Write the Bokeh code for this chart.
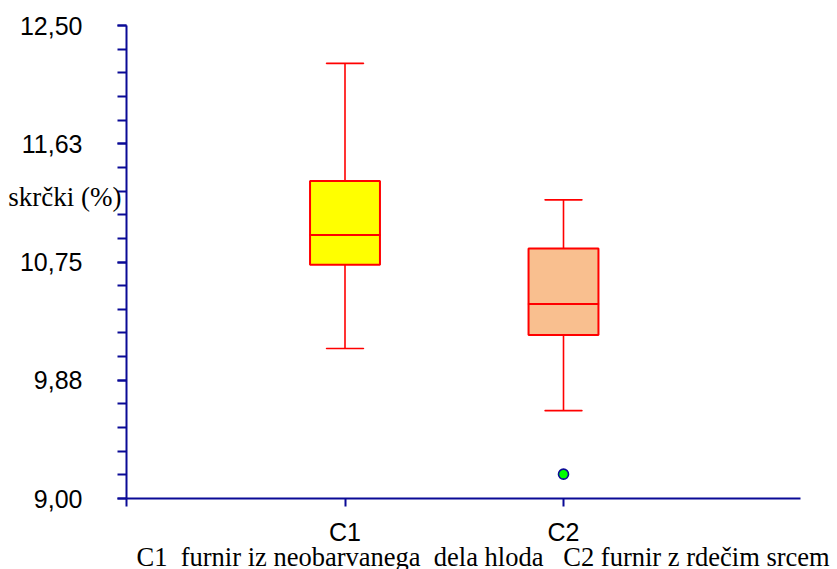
from bokeh.plotting import figure
from bokeh.models import FixedTicker, Label, ColumnDataSource
from bokeh.embed import file_html
from bokeh.resources import INLINE

# ---- data ----
categories = ["C1", "C2"]
positions = [1, 2]
whisker_low = [10.11, 9.65]
q1 = [10.73, 10.21]
median = [10.95, 10.44]
q3 = [11.35, 10.85]
whisker_high = [12.22, 11.21]
box_fills = ["#FFFF00", "#F9BF8F"]
outlier_x = [2]
outlier_y = [9.18]

y_tick_values = [9.0, 9.875, 10.75, 11.625, 12.5]
y_tick_labels = ["9,00", "9,88", "10,75", "11,63", "12,50"]
y_minor_step = 0.175

y_label_text = "skrčki (%)"
caption_text = "C1\u00a0 furnir iz neobarvanega\u00a0 dela hloda\u00a0\u00a0 C2 furnir z rdečim srcem"

# ---- layout (pixels) ----
W, H = 837, 569
AX_LEFT_PX, AX_BOTTOM_PX, AX_TOP_PX = 126, 498, 25
X_PX_PER_UNIT = 218.5
X_AXIS_END = 3.085
Y_MIN, Y_MAX = y_tick_values[0], y_tick_values[-1]
Y_PX_PER_UNIT = (AX_BOTTOM_PX - AX_TOP_PX) / (Y_MAX - Y_MIN)

x_start = -AX_LEFT_PX / X_PX_PER_UNIT
x_end = (W - AX_LEFT_PX) / X_PX_PER_UNIT
y_start = Y_MIN - (H - AX_BOTTOM_PX) / Y_PX_PER_UNIT
y_end = Y_MAX + AX_TOP_PX / Y_PX_PER_UNIT

AXIS = "#0A0A96"
RED = "#FF0000"
BOX_W = 0.32
CAP_W = 0.17

p = figure(frame_width=W, frame_height=H,
           x_range=(x_start, x_end), y_range=(y_start, y_end),
           output_backend="svg", toolbar_location=None, min_border=0)
p.outline_line_color = None
p.xgrid.visible = False
p.ygrid.visible = False
p.background_fill_color = "white"
p.border_fill_color = "white"

src = ColumnDataSource(dict(x=positions, low=whisker_low, q1=q1, med=median,
                            q3=q3, high=whisker_high, fill=box_fills))

# whiskers
p.segment(x0="x", y0="high", x1="x", y1="q3", source=src, line_color=RED, line_width=1.6)
p.segment(x0="x", y0="low", x1="x", y1="q1", source=src, line_color=RED, line_width=1.6)
# caps
p.rect(x="x", y="high", width=CAP_W, height=0.0001, source=src, line_color=RED, line_width=1.6, fill_color=None)
p.rect(x="x", y="low", width=CAP_W, height=0.0001, source=src, line_color=RED, line_width=1.6, fill_color=None)
# boxes
p.vbar(x="x", width=BOX_W, bottom="q1", top="q3", source=src,
       fill_color="fill", line_color=RED, line_width=2)
# medians
p.rect(x="x", y="med", width=BOX_W, height=0.0001, source=src, line_color=RED, line_width=2, fill_color=None)
# outliers
p.scatter(x=outlier_x, y=outlier_y, size=10, marker="circle",
          fill_color="#00FF00", line_color=AXIS, line_width=1.6)

# y axis
ya = p.yaxis[0]
minor = []
i = 0
while Y_MIN + i * y_minor_step <= Y_MAX + 1e-9:
    minor.append(round(Y_MIN + i * y_minor_step, 4))
    i += 1
ya.fixed_location = 0
ya.bounds = (Y_MIN, Y_MAX)
ya.ticker = FixedTicker(ticks=y_tick_values, minor_ticks=minor)
ya.major_label_overrides = {t: l for t, l in zip(y_tick_values, y_tick_labels)}
ya.axis_line_color = AXIS
ya.axis_line_width = 2
ya.major_tick_line_color = AXIS
ya.minor_tick_line_color = AXIS
ya.major_tick_line_width = 2
ya.minor_tick_line_width = 2
ya.major_tick_in = 0
ya.major_tick_out = 9
ya.minor_tick_in = 0
ya.minor_tick_out = 9
ya.major_label_standoff = 35
ya.major_label_text_font = "Liberation Sans"
ya.major_label_text_font_size = "25px"
ya.major_label_text_color = "black"

# x axis
xa = p.xaxis[0]
x_ticks = [0] + positions
xa.fixed_location = Y_MIN
xa.bounds = (0, X_AXIS_END)
xa.ticker = FixedTicker(ticks=x_ticks, minor_ticks=[])
xa.major_label_overrides = {0: ""} | {pp: c for pp, c in zip(positions, categories)}
xa.axis_line_color = AXIS
xa.axis_line_width = 2
xa.major_tick_line_color = AXIS
xa.major_tick_line_width = 2
xa.major_tick_in = 0
xa.major_tick_out = 8
xa.minor_tick_line_color = None
xa.major_label_standoff = 11
xa.major_label_text_font = "Liberation Sans"
xa.major_label_text_font_size = "25px"
xa.major_label_text_color = "black"

# texts
p.add_layout(Label(x=(121 - AX_LEFT_PX) / X_PX_PER_UNIT,
                   y=Y_MIN + (AX_BOTTOM_PX - 196) / Y_PX_PER_UNIT,
                   text=y_label_text, text_align="right",
                   text_baseline="middle", text_font="Liberation Serif",
                   text_font_size="27px", text_color="black"))
p.add_layout(Label(x=(136 - AX_LEFT_PX) / X_PX_PER_UNIT,
                   y=Y_MIN - (556 - AX_BOTTOM_PX) / Y_PX_PER_UNIT,
                   text=caption_text, text_align="left",
                   text_baseline="middle", text_font="Liberation Serif",
                   text_font_size="26.5px", text_color="black"))

open("out.html", "w").write(file_html(p, INLINE))
